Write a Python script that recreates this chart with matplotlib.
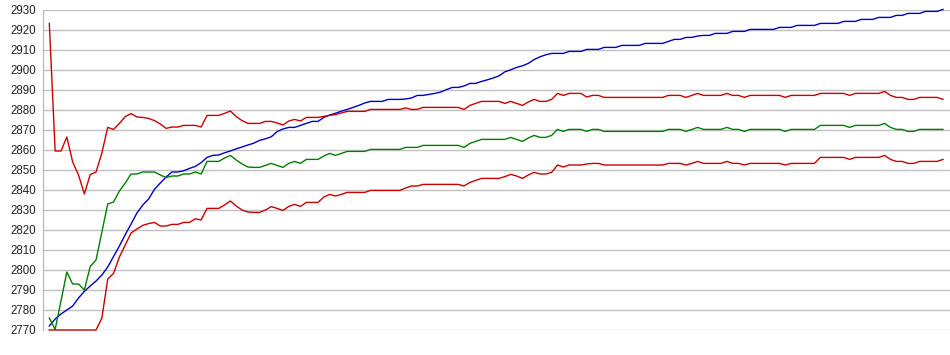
import numpy as np
import matplotlib
matplotlib.use("Agg")
import matplotlib.pyplot as plt

upper_red = [
    2923.3, 2859.5, 2859.5, 2866.5, 2854.0, 2847.5, 2838.0, 2847.7, 2849.0, 2858.5,
    2871.3, 2870.3, 2873.3, 2876.7, 2878.2, 2876.5, 2876.3, 2875.8, 2874.7, 2873.0,
    2870.8, 2871.5, 2871.5, 2872.3, 2872.3, 2872.3, 2871.5, 2877.3, 2877.3, 2877.3,
    2878.3, 2879.5, 2876.7, 2874.7, 2873.3, 2873.3, 2873.3, 2874.3, 2874.3, 2873.5,
    2872.5, 2874.5, 2875.3, 2874.5, 2876.3, 2876.3, 2876.3, 2876.8, 2877.3, 2877.7,
    2878.5, 2879.3, 2879.3, 2879.3, 2879.3, 2880.3, 2880.3, 2880.3, 2880.3, 2880.3,
    2880.3, 2881.0, 2880.3, 2880.3, 2881.3, 2881.3, 2881.3, 2881.3, 2881.3, 2881.3,
    2881.3, 2880.3, 2882.3, 2883.3, 2884.3, 2884.3, 2884.3, 2884.3, 2883.3, 2884.3,
    2883.3, 2882.3, 2884.0, 2885.3, 2884.3, 2884.3, 2885.3, 2888.3, 2887.3, 2888.3,
    2888.3, 2888.3, 2886.5, 2887.3, 2887.3, 2886.3, 2886.3, 2886.3, 2886.3, 2886.3,
    2886.3, 2886.3, 2886.3, 2886.3, 2886.3, 2886.3, 2887.3, 2887.3, 2887.3, 2886.3,
    2887.3, 2888.3, 2887.3, 2887.3, 2887.3, 2887.3, 2888.3, 2887.3, 2887.3, 2886.3,
    2887.3, 2887.3, 2887.3, 2887.3, 2887.3, 2887.3, 2886.3, 2887.3, 2887.3, 2887.3,
    2887.3, 2887.3, 2888.3, 2888.3, 2888.3, 2888.3, 2888.3, 2887.3, 2888.3, 2888.3,
    2888.3, 2888.3, 2888.3, 2889.3, 2887.3, 2886.3, 2886.3, 2885.3, 2885.3, 2886.3,
    2886.3, 2886.3, 2886.3, 2885.3,
]

green = [
    2776.0, 2770.3, 2784.5, 2799.0, 2793.0, 2793.0, 2790.0, 2801.7, 2805.0, 2819.0,
    2833.0, 2834.0, 2839.5, 2843.5, 2848.0, 2848.0, 2849.0, 2849.0, 2849.0, 2847.5,
    2846.2, 2847.0, 2847.0, 2848.0, 2848.0, 2849.0, 2848.0, 2854.3, 2854.3, 2854.3,
    2856.0, 2857.3, 2855.0, 2853.0, 2851.5, 2851.3, 2851.3, 2852.3, 2853.3, 2852.3,
    2851.3, 2853.3, 2854.3, 2853.3, 2855.3, 2855.3, 2855.3, 2857.0, 2858.3, 2857.3,
    2858.3, 2859.3, 2859.3, 2859.3, 2859.3, 2860.3, 2860.3, 2860.3, 2860.3, 2860.3,
    2860.3, 2861.3, 2861.3, 2861.3, 2862.3, 2862.3, 2862.3, 2862.3, 2862.3, 2862.3,
    2862.3, 2861.3, 2863.3, 2864.3, 2865.3, 2865.3, 2865.3, 2865.3, 2865.3, 2866.3,
    2865.3, 2864.3, 2866.0, 2867.3, 2866.3, 2866.3, 2867.3, 2870.3, 2869.3, 2870.3,
    2870.3, 2870.3, 2869.3, 2870.3, 2870.3, 2869.3, 2869.3, 2869.3, 2869.3, 2869.3,
    2869.3, 2869.3, 2869.3, 2869.3, 2869.3, 2869.3, 2870.3, 2870.3, 2870.3, 2869.3,
    2870.3, 2871.3, 2870.3, 2870.3, 2870.3, 2870.3, 2871.3, 2870.3, 2870.3, 2869.3,
    2870.3, 2870.3, 2870.3, 2870.3, 2870.3, 2870.3, 2869.3, 2870.3, 2870.3, 2870.3,
    2870.3, 2870.3, 2872.3, 2872.3, 2872.3, 2872.3, 2872.3, 2871.3, 2872.3, 2872.3,
    2872.3, 2872.3, 2872.3, 2873.3, 2871.3, 2870.3, 2870.3, 2869.3, 2869.3, 2870.3,
    2870.3, 2870.3, 2870.3, 2870.3,
]

lower_red = [
    2770.0, 2770.0, 2770.0, 2770.0, 2770.0, 2770.0, 2770.0, 2770.0, 2770.0, 2776.0,
    2795.5, 2798.3, 2806.5, 2812.5, 2818.5, 2820.5, 2822.3, 2823.2, 2823.8, 2822.0,
    2822.0, 2822.8, 2822.8, 2823.8, 2823.8, 2825.6, 2825.0, 2830.8, 2830.8, 2830.8,
    2832.5, 2834.5, 2832.0, 2830.0, 2829.0, 2828.8, 2828.8, 2830.0, 2831.7, 2830.8,
    2829.8, 2831.8, 2832.8, 2831.8, 2833.8, 2833.8, 2833.8, 2836.5, 2837.8, 2837.0,
    2837.8, 2838.8, 2838.8, 2838.8, 2838.8, 2839.8, 2839.8, 2839.8, 2839.8, 2839.8,
    2839.8, 2841.0, 2842.0, 2842.0, 2842.8, 2842.8, 2842.8, 2842.8, 2842.8, 2842.8,
    2842.8, 2842.0, 2843.8, 2844.8, 2845.8, 2845.8, 2845.8, 2845.8, 2846.7, 2847.8,
    2847.0, 2845.8, 2847.5, 2848.8, 2848.0, 2848.0, 2848.8, 2852.5, 2851.5, 2852.5,
    2852.5, 2852.5, 2853.0, 2853.3, 2853.3, 2852.5, 2852.5, 2852.5, 2852.5, 2852.5,
    2852.5, 2852.5, 2852.5, 2852.5, 2852.5, 2852.5, 2853.3, 2853.3, 2853.3, 2852.5,
    2853.3, 2854.3, 2853.3, 2853.3, 2853.3, 2853.3, 2854.3, 2853.3, 2853.3, 2852.5,
    2853.3, 2853.3, 2853.3, 2853.3, 2853.3, 2853.3, 2852.5, 2853.3, 2853.3, 2853.3,
    2853.3, 2853.3, 2856.3, 2856.3, 2856.3, 2856.3, 2856.3, 2855.3, 2856.3, 2856.3,
    2856.3, 2856.3, 2856.3, 2857.3, 2855.3, 2854.3, 2854.3, 2853.3, 2853.3, 2854.3,
    2854.3, 2854.3, 2854.3, 2855.3,
]

blue = [
    2772.0, 2775.5, 2778.0, 2780.0, 2782.0, 2786.0, 2789.3, 2792.0, 2794.5, 2797.5,
    2801.5, 2806.8, 2812.0, 2817.7, 2823.0, 2828.5, 2832.5, 2835.5, 2840.3, 2843.5,
    2846.5, 2849.0, 2849.0, 2849.6, 2850.8, 2851.8, 2853.7, 2856.3, 2857.3, 2857.5,
    2858.6, 2859.5, 2860.6, 2861.5, 2862.5, 2863.4, 2864.8, 2865.6, 2866.6, 2869.2,
    2870.5, 2871.3, 2871.3, 2872.3, 2873.3, 2874.3, 2874.3, 2876.3, 2877.5, 2878.4,
    2879.4, 2880.3, 2881.3, 2882.3, 2883.5, 2884.3, 2884.3, 2884.3, 2885.3, 2885.3,
    2885.3, 2885.5, 2886.0, 2887.3, 2887.3, 2887.8, 2888.3, 2889.0, 2890.2, 2891.3,
    2891.3, 2892.0, 2893.3, 2893.3, 2894.3, 2895.1, 2896.0, 2897.1, 2899.1, 2900.1,
    2901.3, 2902.1, 2903.3, 2905.2, 2906.6, 2907.6, 2908.3, 2908.3, 2908.3, 2909.3,
    2909.3, 2909.3, 2910.3, 2910.3, 2910.3, 2911.3, 2911.3, 2911.3, 2912.3, 2912.3,
    2912.3, 2912.3, 2913.3, 2913.3, 2913.3, 2913.3, 2914.3, 2915.3, 2915.3, 2916.3,
    2916.3, 2917.0, 2917.3, 2917.3, 2918.3, 2918.3, 2918.3, 2919.3, 2919.3, 2919.3,
    2920.3, 2920.3, 2920.3, 2920.3, 2920.3, 2921.3, 2921.3, 2921.3, 2922.3, 2922.3,
    2922.3, 2922.3, 2923.3, 2923.3, 2923.3, 2923.3, 2924.3, 2924.3, 2924.3, 2925.3,
    2925.3, 2925.3, 2926.3, 2926.3, 2926.3, 2927.3, 2927.3, 2928.3, 2928.3, 2928.3,
    2929.3, 2929.3, 2929.3, 2930.3,
]

y_ticks = list(range(2770, 2931, 10))

fig = plt.figure(figsize=(9.5, 3.55), dpi=100)
ax = fig.add_axes([43 / 950, 25 / 355, 907 / 950, 320 / 355])

x = np.arange(len(blue))
lw = 1.0
ax.plot(x, blue, color="#0000cc", lw=lw, clip_on=False, zorder=3)
ax.plot(x, upper_red, color="#cc0000", lw=lw, clip_on=False, zorder=3)
ax.plot(x, green, color="#008000", lw=lw, clip_on=False, zorder=3)
ax.plot(x, lower_red, color="#cc0000", lw=lw, clip_on=False, zorder=3)

ax.set_ylim(2770, 2930)
ax.set_xlim(-1.08, 154.2)
ax.set_yticks(y_ticks)
ax.set_yticklabels([str(t) for t in y_ticks], fontsize=8.3, color="#222222",
                   family="Liberation Sans")
ax.set_xticks([])
ax.tick_params(axis="y", length=0, pad=5)
ax.grid(axis="y", color="#c0c0c0", lw=1.0)
ax.set_axisbelow(True)
for s in ["top", "right", "bottom"]:
    ax.spines[s].set_visible(False)
ax.spines["left"].set_color("#c0c0c0")
ax.spines["left"].set_linewidth(1.0)

fig.savefig("out.png", dpi=100)
